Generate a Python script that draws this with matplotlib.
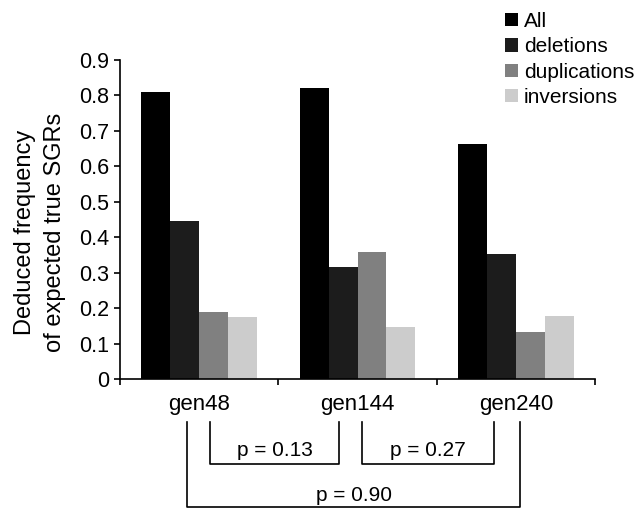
import matplotlib
matplotlib.use("Agg")
import matplotlib.pyplot as plt
import matplotlib.transforms as mtransforms
import numpy as np

plt.rcParams['font.family'] = ['Liberation Sans', 'DejaVu Sans']

groups = ["gen48", "gen144", "gen240"]
series = ["All", "deletions", "duplications", "inversions"]
all_vals = [0.81, 0.82, 0.662]
deletions = [0.445, 0.317, 0.353]
duplications = [0.19, 0.358, 0.133]
inversions = [0.175, 0.148, 0.178]
colors = ["#000000", "#1c1c1c", "#808080", "#cccccc"]
yticks = [0, 0.1, 0.2, 0.3, 0.4, 0.5, 0.6, 0.7, 0.8, 0.9]
ytick_labels = ["0", "0.1", "0.2", "0.3", "0.4", "0.5", "0.6", "0.7", "0.8", "0.9"]
comparisons = [("p = 0.13", 0.069, 0.883, 1), ("p = 0.27", 1.029, 1.863, 1), ("p = 0.90", -0.077, 2.027, 2)]

fig = plt.figure(figsize=(6.37, 5.09), dpi=100)
ax = fig.add_axes([120/637, 1-379/509, 475/637, 319/509])

x = np.arange(len(groups))
w = 0.183
data = [all_vals, deletions, duplications, inversions]
for i, (vals, name, c) in enumerate(zip(data, series, colors)):
    ax.bar(x + (i - 1.5) * w, vals, width=w, color=c, label=name, linewidth=0)

ax.set_xlim(-0.5, 2.5)
ax.set_ylim(0, 0.9)
ax.set_yticks(yticks)
ax.set_yticklabels(ytick_labels, fontsize=15.5)
ax.set_xticks([-0.5, 0.5, 1.5, 2.5])
ax.set_xticklabels([])
ax.set_xticks(x, minor=True)
ax.set_xticklabels(groups, minor=True, fontsize=16)
ax.tick_params(axis='x', which='minor', length=0, pad=11)
ax.tick_params(axis='both', which='major', direction='out', length=4.5, width=1.2, color='black')
ax.tick_params(axis='y', pad=3)
for s in ['top', 'right']:
    ax.spines[s].set_visible(False)
for s in ['left', 'bottom']:
    ax.spines[s].set_linewidth(1.2)

fig.text(40/637, 1-232/509, "Deduced frequency\nof expected true SGRs", rotation=90,
         ha='center', va='center', fontsize=17, multialignment='center', linespacing=1.45)

ax.legend(loc='upper left', bbox_to_anchor=(505/637, 1-12/509), bbox_transform=fig.transFigure,
          frameon=False, handlelength=0.6, handleheight=0.6, handletextpad=0.3,
          labelspacing=0.3, borderpad=0, borderaxespad=0, fontsize=15)

trans = mtransforms.blended_transform_factory(ax.transData, ax.transAxes)
top = -0.135
for label, x0, x1, level in comparisons:
    bot = -0.266 if level == 1 else -0.401
    ty = -0.223 if level == 1 else -0.364
    ax.plot([x0, x0, x1, x1], [top, bot, bot, top], color='black', lw=1.2,
            transform=trans, clip_on=False)
    ax.text((x0 + x1) / 2, ty, label, transform=trans, ha='center', va='center', fontsize=15)

fig.savefig("out.png", dpi=100)
